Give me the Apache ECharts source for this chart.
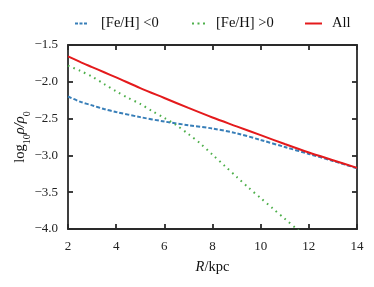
<!DOCTYPE html>
<html>
<head>
<meta charset="utf-8">
<script src="https://cdn.jsdelivr.net/npm/echarts@6/dist/echarts.min.js"></script>
<style>html,body{margin:0;padding:0;background:#fff}#c{width:374px;height:287px}</style>
</head>
<body>
<div id="c"></div>
<script>
const xTicks = [2, 4, 6, 8, 10, 12, 14];
const yTicks = [-4.0, -3.5, -3.0, -2.5, -2.0, -1.5];
const names = ['[Fe/H] <0', '[Fe/H] >0', 'All'];

const rMetalPoor = [2, 2.5, 3, 3.5, 4, 5, 6, 7, 8, 9, 10, 11, 12, 13, 14];
const metalPoor  = [-2.20, -2.27, -2.32, -2.37, -2.41, -2.48, -2.54, -2.59, -2.635, -2.70, -2.79, -2.885, -2.98, -3.075, -3.175];

const rMetalRich = [2, 2.5, 3, 3.5, 4, 4.5, 5, 5.5, 6, 6.5, 7, 7.5, 8, 8.5, 9, 9.5, 10, 10.5, 11, 11.5, 12];
const metalRich  = [-1.78, -1.85, -1.93, -2.03, -2.13, -2.22, -2.30, -2.40, -2.49, -2.59, -2.71, -2.84, -2.99, -3.14, -3.29, -3.44, -3.58, -3.72, -3.86, -4.0, -4.14];

const rAll = [2, 2.5, 3, 3.5, 4, 5, 6, 7, 8, 9, 10, 11, 12, 13, 14];
const allStars = [-1.655, -1.73, -1.80, -1.87, -1.94, -2.085, -2.22, -2.355, -2.485, -2.605, -2.725, -2.845, -2.96, -3.065, -3.17];

const zip = (a, b) => a.map((v, i) => [v, b[i]]);
const serif = 'Liberation Serif';
const axisCol = '#2a2a2a';

const chart = echarts.init(document.getElementById('c'), null, {renderer: 'canvas'});
const iconDash = 'path://M0,0h3v2h-3Z M4.5,0h3v2h-3Z M9,0h3v2h-3Z';
const iconDot = 'path://M0,0h2v2h-2Z M5.5,0h2v2h-2Z M11,0h2v2h-2Z';
const iconSolid = 'path://M0,0h17v2h-17Z';
const legendBase = (name, icon, left, w, gap) => ({
  data: [{name: name, icon: icon}], left: left, top: 16, itemWidth: w, itemHeight: 2, padding: 0,
  textStyle: {fontFamily: serif, fontSize: 14.5, color: '#111', padding: [0, 0, 0, gap]}
});
chart.setOption({
  animation: false,
  legend: [
    legendBase(names[0], iconDash, 75, 12, 9),
    legendBase(names[1], iconDot, 192, 13, 6),
    legendBase(names[2], iconSolid, 305, 17, 5)
  ],
  grid: {left: 68, right: 17, top: 45, bottom: 58, containLabel: false},
  xAxis: [{
    type: 'value', min: xTicks[0], max: xTicks[xTicks.length - 1], interval: 2,
    name: '{i|R}{n|/kpc}', nameLocation: 'middle', nameGap: 31,
    nameTextStyle: {rich: {i: {fontFamily: serif, fontStyle: 'italic', fontSize: 14.5, color: '#111'}, n: {fontFamily: serif, fontSize: 14.5, color: '#111'}}},
    axisLine: {lineStyle: {color: axisCol, width: 1.8}},
    axisTick: {inside: true, length: 5, lineStyle: {color: axisCol, width: 1.8}},
    axisLabel: {fontFamily: serif, fontSize: 13, color: '#222', margin: 11, formatter: v => String(v)},
    splitLine: {show: false}
  }, {
    type: 'value', position: 'top', min: 2, max: 14, interval: 2,
    axisLine: {show: true, lineStyle: {color: axisCol, width: 1.8}},
    axisTick: {inside: true, length: 5, lineStyle: {color: axisCol, width: 1.8}},
    axisLabel: {show: false}, splitLine: {show: false}
  }],
  yAxis: [{
    type: 'value', min: yTicks[0], max: yTicks[yTicks.length - 1], interval: 0.5,
    name: '{n|log}{s|10}{i|\u03C1/\u03C1}{s|0}', nameLocation: 'middle', nameGap: 40, nameRotate: 90,
    nameMoveOverlap: false,
    nameTextStyle: {rich: {
      n: {fontFamily: serif, fontSize: 14.5, color: '#111', verticalAlign: 'bottom', lineHeight: 18},
      i: {fontFamily: serif, fontStyle: 'italic', fontSize: 14.5, color: '#111', verticalAlign: 'bottom', lineHeight: 18},
      s: {fontFamily: serif, fontSize: 10, color: '#111', verticalAlign: 'bottom', lineHeight: 12, padding: [0, 0, -4, 0]}
    }},
    axisLine: {show: true, lineStyle: {color: axisCol, width: 1.8}},
    axisTick: {inside: true, length: 5, lineStyle: {color: axisCol, width: 1.8}},
    axisLabel: {fontFamily: serif, fontSize: 13, color: '#222', margin: 10, formatter: v => v.toFixed(1).replace('-', '\u2212')},
    splitLine: {show: false}
  }, {
    type: 'value', position: 'right', min: -4, max: -1.5, interval: 0.5,
    axisLine: {show: true, lineStyle: {color: axisCol, width: 1.8}},
    axisTick: {inside: true, length: 5, lineStyle: {color: axisCol, width: 1.8}},
    axisLabel: {show: false}, splitLine: {show: false}
  }],
  series: [{
    name: names[0], type: 'line', data: zip(rMetalPoor, metalPoor), smooth: 0.3, symbol: 'none',
    lineStyle: {color: '#377eb8', width: 2, type: [4, 2]}, itemStyle: {color: '#377eb8'}, z: 2
  }, {
    name: names[1], type: 'line', data: zip(rMetalRich, metalRich), smooth: 0.3, symbol: 'none',
    lineStyle: {color: '#4daf4a', width: 2, type: [1.6, 4.2]}, itemStyle: {color: '#4daf4a'}, z: 3
  }, {
    name: names[2], type: 'line', data: zip(rAll, allStars), smooth: 0.3, symbol: 'none',
    lineStyle: {color: '#e41a1c', width: 2}, itemStyle: {color: '#e41a1c'}, z: 4
  }]
});
</script>
</body>
</html>
